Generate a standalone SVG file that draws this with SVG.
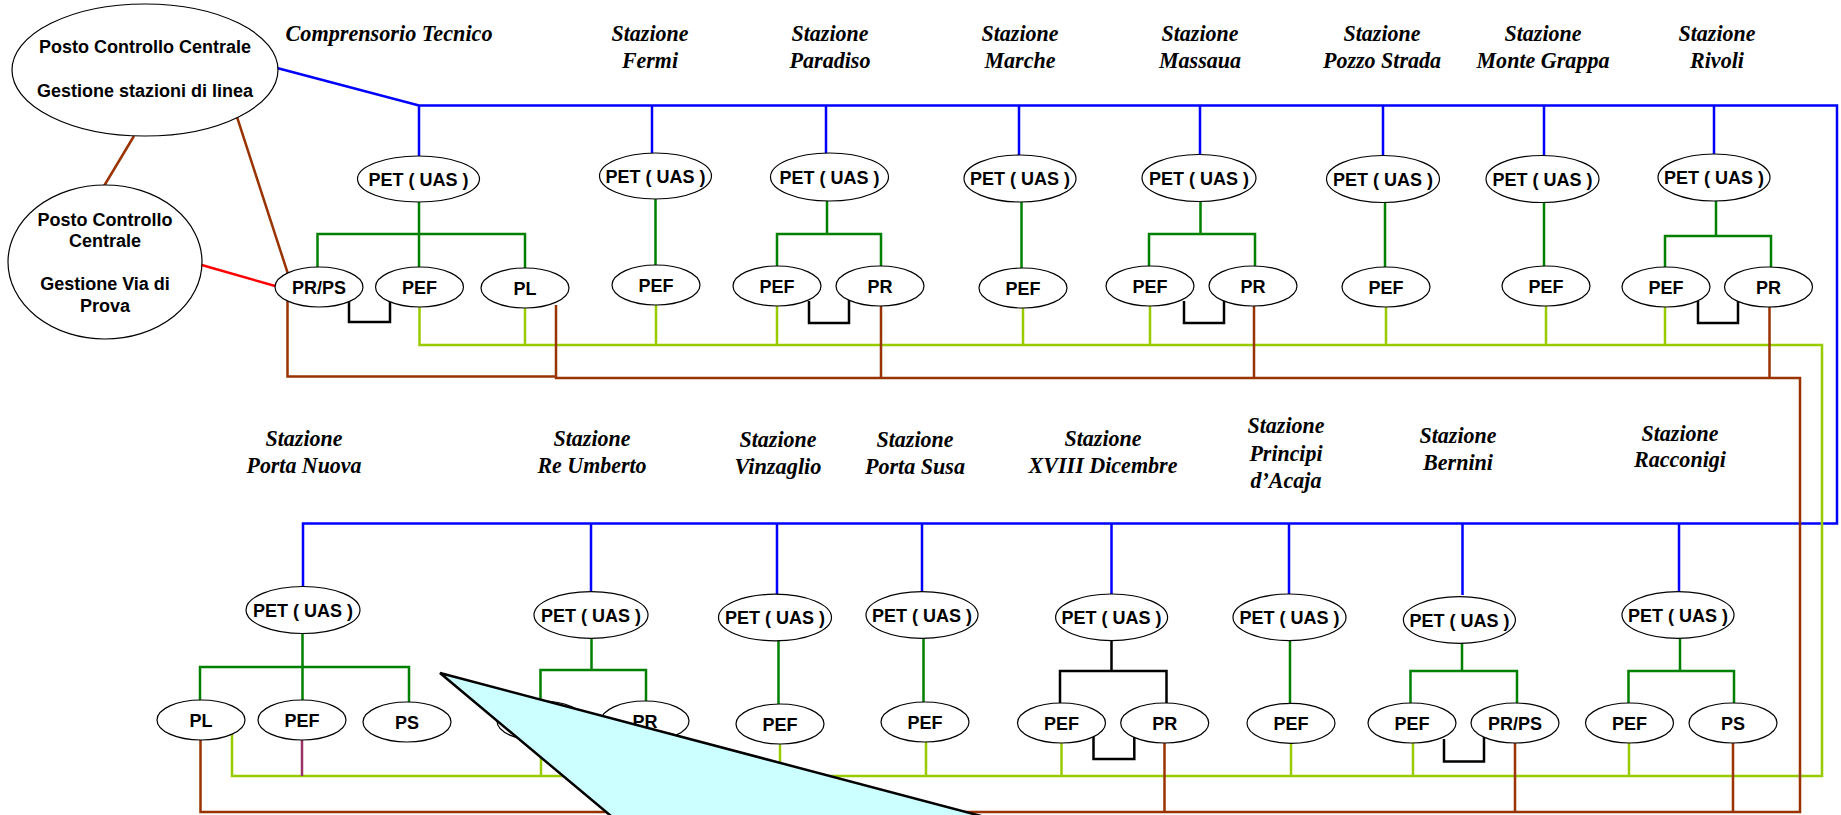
<svg xmlns="http://www.w3.org/2000/svg" width="1841" height="815" viewBox="0 0 1841 815">
<style>
.n ellipse{fill:#fff;stroke:#000;stroke-width:1.2}
.n text{font-family:"Liberation Sans",Arial,sans-serif;font-weight:bold;font-size:18px;text-anchor:middle;fill:#000}
.t text{font-family:"Liberation Serif","Times New Roman",serif;font-weight:bold;font-style:italic;font-size:24px;text-anchor:middle;fill:#000}
#connectors path{fill:none;stroke-width:2.5}
.bl{stroke:#0000FF}
.gr{stroke:#008000}
.lg{stroke:#99CC00}
.br{stroke:#993300}
.rd{stroke:#FF0000}
.bk{stroke:#000000}
.bk3{stroke:#000000;stroke-width:3px}
.pu{stroke:#993366}
</style>
<rect width="1841" height="815" fill="#fff"/>

<g id="titles" class="t">
<text x="389" y="41" textLength="207" lengthAdjust="spacingAndGlyphs">Comprensorio Tecnico</text>
<text x="650" y="41" textLength="77" lengthAdjust="spacingAndGlyphs">Stazione</text><text x="650" y="68" textLength="56" lengthAdjust="spacingAndGlyphs">Fermi</text>
<text x="830" y="41" textLength="77" lengthAdjust="spacingAndGlyphs">Stazione</text><text x="830" y="68" textLength="81" lengthAdjust="spacingAndGlyphs">Paradiso</text>
<text x="1020" y="41" textLength="77" lengthAdjust="spacingAndGlyphs">Stazione</text><text x="1020" y="68" textLength="71" lengthAdjust="spacingAndGlyphs">Marche</text>
<text x="1200" y="41" textLength="77" lengthAdjust="spacingAndGlyphs">Stazione</text><text x="1200" y="68" textLength="82" lengthAdjust="spacingAndGlyphs">Massaua</text>
<text x="1382" y="41" textLength="77" lengthAdjust="spacingAndGlyphs">Stazione</text><text x="1382" y="68" textLength="118" lengthAdjust="spacingAndGlyphs">Pozzo Strada</text>
<text x="1543" y="41" textLength="77" lengthAdjust="spacingAndGlyphs">Stazione</text><text x="1543" y="68" textLength="133" lengthAdjust="spacingAndGlyphs">Monte Grappa</text>
<text x="1717" y="41" textLength="77" lengthAdjust="spacingAndGlyphs">Stazione</text><text x="1717" y="68" textLength="54" lengthAdjust="spacingAndGlyphs">Rivoli</text>
<text x="304" y="446" textLength="77" lengthAdjust="spacingAndGlyphs">Stazione</text><text x="304" y="473" textLength="115" lengthAdjust="spacingAndGlyphs">Porta Nuova</text>
<text x="592" y="446" textLength="77" lengthAdjust="spacingAndGlyphs">Stazione</text><text x="592" y="473" textLength="109" lengthAdjust="spacingAndGlyphs">Re Umberto</text>
<text x="778" y="447" textLength="77" lengthAdjust="spacingAndGlyphs">Stazione</text><text x="778" y="474" textLength="87" lengthAdjust="spacingAndGlyphs">Vinzaglio</text>
<text x="915" y="447" textLength="77" lengthAdjust="spacingAndGlyphs">Stazione</text><text x="915" y="474" textLength="100" lengthAdjust="spacingAndGlyphs">Porta Susa</text>
<text x="1103" y="446" textLength="77" lengthAdjust="spacingAndGlyphs">Stazione</text><text x="1103" y="473" textLength="149" lengthAdjust="spacingAndGlyphs">XVIII Dicembre</text>
<text x="1286" y="433" textLength="77" lengthAdjust="spacingAndGlyphs">Stazione</text><text x="1286" y="461" textLength="73" lengthAdjust="spacingAndGlyphs">Principi</text><text x="1286" y="488" textLength="71" lengthAdjust="spacingAndGlyphs">d’Acaja</text>
<text x="1458" y="443" textLength="77" lengthAdjust="spacingAndGlyphs">Stazione</text><text x="1458" y="470" textLength="70" lengthAdjust="spacingAndGlyphs">Bernini</text>
<text x="1680" y="441" textLength="77" lengthAdjust="spacingAndGlyphs">Stazione</text><text x="1680" y="467" textLength="92" lengthAdjust="spacingAndGlyphs">Racconigi</text>
</g>

<g id="connectors">
<path class="bl" d="M277 68 L419 105.5 H1837 V523.5 H303 V587"/>
<path class="bl" d="M419 105.5 V156 M652 105.5 V153 M826 105.5 V154 M1019 105.5 V155 M1200 105.5 V155 M1383 105.5 V156 M1544 105.5 V156 M1714 105.5 V155"/>
<path class="bl" d="M591 523.5 V592 M777 523.5 V594 M922 523.5 V592 M1111.5 523.5 V594 M1289 523.5 V594 M1462.5 523.5 V595 M1679 523.5 V592"/>
<path class="gr" d="M419 202 V267 M317.5 267 V234 H525 V268 M655.5 199 V265 M827 201 V234 M777 266 V234 H881 V266 M1021.5 202 V268 M1200.5 201 V234 M1149 266 V234 H1255 V266 M1385 202 V267 M1544 202 V266 M1716 201 V236 M1665 267 V236 H1771 V267"/>
<path class="gr" d="M302.5 633 V700 M200 700 V667 H409 V702 M591.5 638 V670 M540.5 701 V670 H646 V701 M778.5 641 V704 M923.5 638 V702 M1290 641 V703 M1462 643 V671 M1410.5 703 V671 H1517 V703 M1680 638 V671 M1628.5 703 V671 H1734 V703"/>
<path class="bk" d="M1111.5 641 V671 M1060 703 V671 H1166.5 V703"/>
<path class="lg" d="M419.5 307 V345 H1822 V776 H232 V733"/>
<path class="lg" d="M525 308 V345 M656 305 V345 M777 306 V345 M1023 308 V345 M1150 306 V345 M1386 307 V345 M1546 306 V345 M1665 307 V345"/>
<path class="lg" d="M541 741 V776 M780 744 V776 M926 742 V776 M1061.5 743 V776 M1291 743 V776 M1413 743 V776 M1629 743 V776"/>
<path class="pu" d="M302 740 V776"/>
<path class="br" d="M134 136 L104 186 M237 117 L288 274"/>
<path class="br" d="M287.5 300 V376.5 H556 M556 305 V378 H1800 V812 H200.5 V740"/>
<path class="br" d="M881 306 V378 M1254 306 V378 M1769.5 307 V378 M1164.5 743 V812 M1515 743 V812 M1733 743 V812"/>
<path class="rd" d="M201.7 265 L277 286.5"/>
<path class="bk3" d="M349 301 V322 H390 V300 M809 301 V323 H849 V300 M1184 301 V323 H1224 V300 M1698 301 V323 H1738 V300 M1093.5 736 V759 H1134.3 V735 M1444 739 V761.5 H1484 V737"/>
</g>

<g id="pcc-linea" class="n"><ellipse cx="145" cy="70" rx="133" ry="66"/><text x="145" y="53">Posto Controllo Centrale</text><text x="145" y="97">Gestione stazioni di linea</text></g>
<g id="pcc-prova" class="n"><ellipse cx="105" cy="262" rx="97" ry="77"/><text x="105" y="226">Posto Controllo</text><text x="105" y="247">Centrale</text><text x="105" y="290">Gestione Via di</text><text x="105" y="312">Prova</text></g>

<g id="ct-pet" class="n"><ellipse cx="418.5" cy="179" rx="61" ry="23"/><text x="418.5" y="185.5">PET ( UAS )</text></g>
<g id="ct-prps" class="n"><ellipse cx="319" cy="287" rx="44" ry="20"/><text x="319" y="293.5">PR/PS</text></g>
<g id="ct-pef" class="n"><ellipse cx="419.5" cy="287" rx="44" ry="20"/><text x="419.5" y="293.5">PEF</text></g>
<g id="ct-pl" class="n"><ellipse cx="525" cy="288" rx="44" ry="20"/><text x="525" y="294.5">PL</text></g>

<g id="fermi-pet" class="n"><ellipse cx="655.5" cy="176" rx="56" ry="23"/><text x="655.5" y="182.5">PET ( UAS )</text></g>
<g id="fermi-pef" class="n"><ellipse cx="656" cy="285" rx="44" ry="20"/><text x="656" y="291.5">PEF</text></g>

<g id="paradiso-pet" class="n"><ellipse cx="829.5" cy="177" rx="59" ry="24"/><text x="829.5" y="183.5">PET ( UAS )</text></g>
<g id="paradiso-pef" class="n"><ellipse cx="777" cy="286" rx="44" ry="20"/><text x="777" y="292.5">PEF</text></g>
<g id="paradiso-pr" class="n"><ellipse cx="880" cy="286" rx="44" ry="20"/><text x="880" y="292.5">PR</text></g>

<g id="marche-pet" class="n"><ellipse cx="1020" cy="178.5" rx="56" ry="23.5"/><text x="1020" y="185">PET ( UAS )</text></g>
<g id="marche-pef" class="n"><ellipse cx="1023" cy="288" rx="44" ry="20"/><text x="1023" y="294.5">PEF</text></g>

<g id="massaua-pet" class="n"><ellipse cx="1199" cy="178" rx="57" ry="23.5"/><text x="1199" y="184.5">PET ( UAS )</text></g>
<g id="massaua-pef" class="n"><ellipse cx="1150" cy="286" rx="44" ry="20"/><text x="1150" y="292.5">PEF</text></g>
<g id="massaua-pr" class="n"><ellipse cx="1253" cy="286" rx="44" ry="20"/><text x="1253" y="292.5">PR</text></g>

<g id="pozzo-pet" class="n"><ellipse cx="1383" cy="179" rx="56.5" ry="23.5"/><text x="1383" y="185.5">PET ( UAS )</text></g>
<g id="pozzo-pef" class="n"><ellipse cx="1386" cy="287" rx="44" ry="20"/><text x="1386" y="293.5">PEF</text></g>

<g id="monte-pet" class="n"><ellipse cx="1542.5" cy="179" rx="56.5" ry="23.5"/><text x="1542.5" y="185.5">PET ( UAS )</text></g>
<g id="monte-pef" class="n"><ellipse cx="1546" cy="286" rx="44" ry="20"/><text x="1546" y="292.5">PEF</text></g>

<g id="rivoli-pet" class="n"><ellipse cx="1714" cy="177.5" rx="56" ry="23.5"/><text x="1714" y="184">PET ( UAS )</text></g>
<g id="rivoli-pef" class="n"><ellipse cx="1666" cy="287" rx="44" ry="20"/><text x="1666" y="293.5">PEF</text></g>
<g id="rivoli-pr" class="n"><ellipse cx="1768.5" cy="287" rx="44" ry="20"/><text x="1768.5" y="293.5">PR</text></g>

<g id="pn-pet" class="n"><ellipse cx="303" cy="610" rx="57" ry="23.5"/><text x="303" y="616.5">PET ( UAS )</text></g>
<g id="pn-pl" class="n"><ellipse cx="201" cy="720" rx="44" ry="20"/><text x="201" y="726.5">PL</text></g>
<g id="pn-pef" class="n"><ellipse cx="302" cy="720" rx="44" ry="20"/><text x="302" y="726.5">PEF</text></g>
<g id="pn-ps" class="n"><ellipse cx="407" cy="722" rx="44" ry="20"/><text x="407" y="728.5">PS</text></g>

<g id="ru-pet" class="n"><ellipse cx="591" cy="615" rx="57" ry="23.3"/><text x="591" y="621.5">PET ( UAS )</text></g>
<g id="ru-pef" class="n"><ellipse cx="541" cy="721" rx="44" ry="20"/></g>
<g id="ru-pr" class="n"><ellipse cx="645" cy="721" rx="44" ry="20"/><text x="645" y="727.5">PR</text></g>

<g id="vin-pet" class="n"><ellipse cx="775" cy="617.5" rx="56.5" ry="23.3"/><text x="775" y="624">PET ( UAS )</text></g>
<g id="vin-pef" class="n"><ellipse cx="780" cy="724" rx="44" ry="20"/><text x="780" y="730.5">PEF</text></g>

<g id="ps-pet" class="n"><ellipse cx="922" cy="615" rx="56" ry="23.3"/><text x="922" y="621.5">PET ( UAS )</text></g>
<g id="ps-pef" class="n"><ellipse cx="925" cy="722" rx="44" ry="20"/><text x="925" y="728.5">PEF</text></g>

<g id="xviii-pet" class="n"><ellipse cx="1111.6" cy="617.3" rx="56" ry="23.3"/><text x="1111.6" y="623.8">PET ( UAS )</text></g>
<g id="xviii-pef" class="n"><ellipse cx="1061.5" cy="723" rx="44" ry="20"/><text x="1061.5" y="729.5">PEF</text></g>
<g id="xviii-pr" class="n"><ellipse cx="1164.7" cy="723" rx="44" ry="20"/><text x="1164.7" y="729.5">PR</text></g>

<g id="pri-pet" class="n"><ellipse cx="1289.5" cy="617.3" rx="56.5" ry="23.3"/><text x="1289.5" y="623.8">PET ( UAS )</text></g>
<g id="pri-pef" class="n"><ellipse cx="1291" cy="723.3" rx="44" ry="20"/><text x="1291" y="729.8">PEF</text></g>

<g id="ber-pet" class="n"><ellipse cx="1459.4" cy="620" rx="56" ry="23.3"/><text x="1459.4" y="626.5">PET ( UAS )</text></g>
<g id="ber-pef" class="n"><ellipse cx="1412" cy="723" rx="44" ry="20"/><text x="1412" y="729.5">PEF</text></g>
<g id="ber-prps" class="n"><ellipse cx="1515" cy="723" rx="44" ry="20"/><text x="1515" y="729.5">PR/PS</text></g>

<g id="rac-pet" class="n"><ellipse cx="1678" cy="615" rx="56" ry="23.3"/><text x="1678" y="621.5">PET ( UAS )</text></g>
<g id="rac-pef" class="n"><ellipse cx="1629.5" cy="723" rx="44" ry="20"/><text x="1629.5" y="729.5">PEF</text></g>
<g id="rac-ps" class="n"><ellipse cx="1733" cy="723" rx="44" ry="20"/><text x="1733" y="729.5">PS</text></g>

<g id="callout"><polygon points="440,673 1000,821 617,821" fill="#CCFFFF" stroke="#000" stroke-width="2.5" stroke-linejoin="miter"/></g>
</svg>
